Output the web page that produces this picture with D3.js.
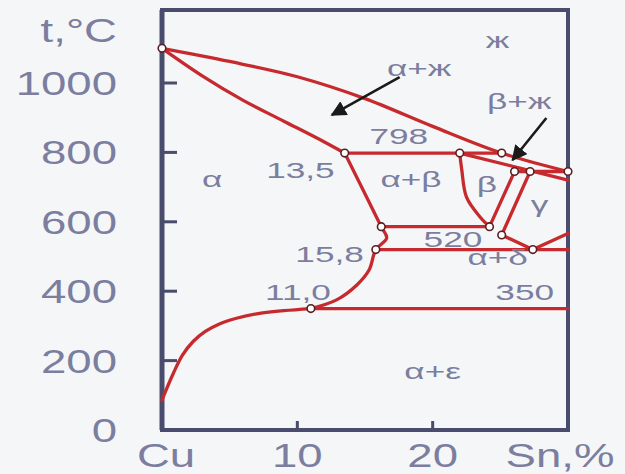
<!DOCTYPE html>
<html>
<head>
<meta charset="utf-8">
<script src="https://cdn.jsdelivr.net/npm/d3@7"></script>
<style>
  html, body { margin: 0; padding: 0; background: #f5f6f7; }
  svg { display: block; }
</style>
</head>
<body>
<svg id="chart" width="625" height="474"></svg>
<script>
// Cu–Sn equilibrium diagram, copper-rich side (Sn %, °C)

const compTicks = [0, 10, 20, 30];
const compTickLabels = ["Cu", "10", "20", "Sn,%"];
const tempTicks = [0, 200, 400, 600, 800, 1000];

// phase boundaries as [Sn %, t °C]
const liquidus     = [[0, 1100], [5, 1062], [10, 1018], [15, 955], [20, 875], [25.1, 798], [30, 745]];
const alphaSolidus = [[0, 1100], [3, 1020], [6, 950], [9, 890], [12, 830], [13.5, 798]];
const alphaUpper   = [[13.5, 798], [16.2, 586], [16.6, 553], [15.8, 520], [15.3, 461], [14.4, 418],
                      [12.9, 375], [11.0, 350]];
const alphaLower   = [[11.0, 350], [9, 344], [7, 335], [5.5, 322], [4.2, 305], [3.2, 284], [2.3, 255],
                      [1.5, 215], [0.8, 160], [0.3, 115], [0, 86]];
const betaSolidus  = [[22, 798], [30, 720]];
const betaLeft     = [[22, 798], [22.15, 750], [22.5, 671], [23.5, 614], [24.2, 586]];
const betaRight    = [[26.05, 745], [24.2, 586]];
const gammaLeft    = [[27.2, 745], [25.1, 562]];
const gammaLower   = [[25.1, 562], [27.4, 520], [30, 566]];

// horizontal invariant lines: temperature, from Sn %, to Sn %
const isoTemps = [798, 745, 586, 520, 350];
const isoFrom  = [13.5, 26.05, 16.2, 15.8, 11.0];
const isoTo    = [25.1, 30, 24.2, 30, 30];

// marked points on the boundaries
const nodes = [[0, 1100], [13.5, 798], [22, 798], [25.1, 798], [26.05, 745], [27.2, 745], [30, 745],
               [16.2, 586], [24.2, 586], [25.1, 562], [15.8, 520], [27.4, 520], [11.0, 350]];

// annotated compositions and temperatures
const compNotes = [[13.5, 798], [15.8, 520], [11.0, 350]];
const tempNotes = [798, 520, 350];

// phase field names and their anchor points [Sn %, °C]
const fieldNames   = ["ж", "α+ж", "β+ж", "α", "α+β", "β", "γ", "α+δ", "α+ε"];
const fieldAnchors = [[24.8, 1100], [19.0, 1020], [26.4, 925], [3.7, 700], [18.4, 700],
                      [24.0, 685], [27.9, 628], [24.8, 475], [20.0, 148]];

// pointer arrows [from, to]
const arrows = [[[17.56, 1017], [12.55, 908]], [[28.4, 899], [25.9, 778]]];

const svg = d3.select("#chart");
const x = d3.scaleLinear().domain([0, 30]).range([162, 568]);
const y = d3.scaleLinear().domain([0, 1000]).range([430, 83]);
const tTop = y.invert(10);

const textColor = "#7b7e9f";
const frameColor = "#4a4c6e";
const red = "#c62a2e";
const fmt = v => d3.format(".1f")(v).replace(".", ",");

function label(str, px, py, size, sx, anchor) {
  return svg.append("text")
    .attr("transform", `translate(${px},${py}) scale(${sx},1)`)
    .attr("text-anchor", anchor || "middle")
    .attr("font-family", "'Liberation Sans', Arial, sans-serif")
    .attr("font-size", size)
    .attr("fill", textColor)
    .text(str);
}

// frame
const frame = svg.append("g").attr("stroke", frameColor).attr("fill", "none");
frame.append("rect")
  .attr("x", x(0)).attr("y", y(tTop))
  .attr("width", x(30) - x(0)).attr("height", y(0) - y(tTop))
  .attr("stroke-width", 4);
frame.append("line")
  .attr("x1", x(0)).attr("x2", x(0)).attr("y1", y(tTop)).attr("y2", y(0))
  .attr("stroke-width", 5);

// inward ticks
frame.selectAll(".ty").data(tempTicks.filter(t => t > 0)).join("line")
  .attr("x1", x(0)).attr("x2", x(0) + 15)
  .attr("y1", d => y(d)).attr("y2", d => y(d))
  .attr("stroke-width", 3);
frame.selectAll(".tx").data(compTicks.filter(c => c > 0 && c < 30)).join("line")
  .attr("x1", d => x(d)).attr("x2", d => x(d))
  .attr("y1", y(0)).attr("y2", y(0) - 9)
  .attr("stroke-width", 3);

// tick labels
tempTicks.forEach(t => label(String(t), 117, y(t) + 12, 33, 1.38, "end"));
label("t,°C", 117, 42, 33, 1.38, "end");
const xLabelShift = [4, 0, 0, -8];
compTicks.forEach((c, i) => label(compTickLabels[i], x(c) + xLabelShift[i], 467, 33, 1.38, "middle"));

// boundaries
const line = d3.line().x(d => x(d[0])).y(d => y(d[1]));
const smooth = d3.line().x(d => x(d[0])).y(d => y(d[1])).curve(d3.curveMonotoneX);
const curved = d3.line().x(d => x(d[0])).y(d => y(d[1])).curve(d3.curveCatmullRom.alpha(0.5));
const bounds = svg.append("g").attr("fill", "none").attr("stroke", red)
  .attr("stroke-width", 3.3).attr("stroke-linejoin", "round").attr("stroke-linecap", "round");

[liquidus, alphaSolidus].forEach(pts => bounds.append("path").attr("d", smooth(pts)));
[alphaUpper, alphaLower, betaLeft].forEach(pts => bounds.append("path").attr("d", curved(pts)));
[betaSolidus, betaRight, gammaLeft, gammaLower].forEach(pts => bounds.append("path").attr("d", line(pts)));
isoTemps.forEach((t, i) => bounds.append("line")
  .attr("x1", x(isoFrom[i])).attr("x2", x(isoTo[i]))
  .attr("y1", y(t)).attr("y2", y(t)));

// nodes
svg.append("g").selectAll("circle").data(nodes).join("circle")
  .attr("cx", d => x(d[0])).attr("cy", d => y(d[1]))
  .attr("r", 3.8).attr("fill", "#ffffff")
  .attr("stroke", "#5a1f22").attr("stroke-width", 1.6);

// arrows
const defs = svg.append("defs");
defs.append("marker")
  .attr("id", "head").attr("viewBox", "0 0 10 10")
  .attr("refX", 9).attr("refY", 5)
  .attr("markerWidth", 6).attr("markerHeight", 6)
  .attr("markerUnits", "strokeWidth")
  .attr("orient", "auto")
  .append("path").attr("d", "M0,0 L10,5 L0,10 Z").attr("fill", "#1a1a1a");
svg.append("g").selectAll("line").data(arrows).join("line")
  .attr("x1", d => x(d[0][0])).attr("y1", d => y(d[0][1]))
  .attr("x2", d => x(d[1][0])).attr("y2", d => y(d[1][1]))
  .attr("stroke", "#1a1a1a").attr("stroke-width", 2.6)
  .attr("marker-end", "url(#head)");

// phase field names
fieldNames.forEach((n, i) => label(n, x(fieldAnchors[i][0]), y(fieldAnchors[i][1]), 22, 1.6, "middle"));

// invariant temperatures
label(String(tempNotes[0]), x(17.5), y(tempNotes[0]) - 9, 22, 1.6, "middle");
label(String(tempNotes[1]), x(21.5), y(tempNotes[1]) - 3, 22, 1.6, "middle");
label(String(tempNotes[2]), x(26.8), y(tempNotes[2]) - 9, 22, 1.6, "middle");

// compositions at marked points
label(fmt(compNotes[0][0]), x(compNotes[0][0]) - 10, y(compNotes[0][1]) + 25, 22, 1.6, "end");
label(fmt(compNotes[1][0]), x(compNotes[1][0]) - 12, y(compNotes[1][1]) + 12, 22, 1.6, "end");
label(fmt(compNotes[2][0]), x(compNotes[2][0]) - 13, y(compNotes[2][1]) - 9, 22, 1.6, "middle");
</script>
</body>
</html>
